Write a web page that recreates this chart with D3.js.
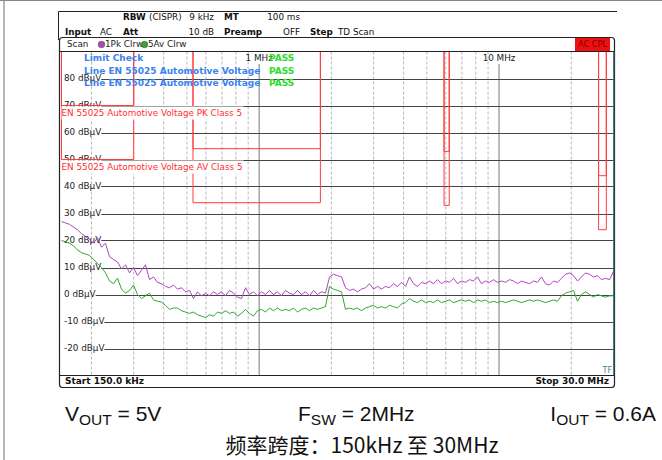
<!DOCTYPE html>
<html>
<head>
<meta charset="utf-8">
<script src="https://cdn.jsdelivr.net/npm/d3@7"></script>
<style>
  body { margin: 0; background: #fff; }
  svg { display: block; }
</style>
</head>
<body>
<div id="chart"></div>
<script>
// sweep, MHz
const sweepStart = 0.15;
const sweepStop = 30;

const levelTicks = [80, 70, 60, 50, 40, 30, 20, 10, 0, -10, -20];
const decadeTicks = [1, 10];
const minorTicks = [0.2, 0.3, 0.4, 0.5, 0.6, 0.7, 0.8, 0.9, 2, 3, 4, 5, 6, 7, 8, 9, 20];

// limit line bands (MHz / dBuV)
const bandStart = [0.15, 0.53, 5.9, 26];
const bandStop = [0.3, 1.8, 6.2, 28];
const bandPeak = [70, 54, 53, 44];
const bandAvg = [50, 34, 33, 24];

// trace 1: 1Pk Clrw, dBuV
const peakTrace = [
  27, 26.5, 26, 25, 24, 22.5, 21.5, 20.5, 19, 21,
  17.5, 19, 14, 13, 12, 9.5, 11, 8, 10, 7,
  9, 11, 5.5, 6.5, 4.5, 4, 3, 2.5, 3.5, 2,
  2.5, 1, 1.5, -1.5, 1, -0.5, 0.5, -0.5, 1, 0,
  1, -0.5, 1.5, 0.5, -1, -1.5, 2.5, 0, 1, -0.5,
  1, 0, 1.5, 0, 1, -0.5, 1.5, 0.5, 0, 1.5,
  0, 1, -0.5, 1.5, 0, 1, 0.5, 6.5, 7.5, 7,
  6.5, 2.5, 1.5, 2, 1, 2, 2.5, 4, 2, 3,
  2, 3, 2.5, 4, 3, 4.5, 3, 6.5, 4, 3,
  4.5, 4, 5, 4, 5.5, 4, 5, 4.5, 6, 4,
  5, 4.5, 5.5, 5, 6.5, 4, 5, 4.5, 5.5, 4.5,
  5, 4.5, 5.5, 5, 4, 5, 4.5, 4, 5, 4.5,
  6.5, 4, 3.5, 5, 4.5, 6, 7.5, 8, 7, 5,
  6.5, 8, 7.5, 6.5, 7, 5.5, 6, 5.5, 8.5
];

// trace 2: 5Av Clrw, dBuV
const avgTrace = [
  20, 19.5, 19, 18, 16.5, 15.5, 15, 14.5, 13, 11.5,
  10, 8, 5, 4, 6, 2, 0.5, 1.5, 3.5, 0,
  -1.5, -0.5, 0.5, -2, -2.5, -2.8, -4, -5.5, -5, -5,
  -6, -6.5, -7, -6.5, -7.5, -8, -8.5, -7.5, -8, -6.5,
  -7, -6, -7, -6.5, -8, -7, -5.5, -7, -8, -6,
  -5.5, -6.5, -5, -6, -5, -6, -5.5, -6, -5, -6.5,
  -5.5, -5, -6, -5, -5.5, -5, -4.5, 3, 2, 1.5,
  1, -5.5, -5, -5.5, -5, -6, -5, -4.5, -4, -5,
  -4.5, -5, -4, -4.5, -5, -3.5, -3, -1.5, -2.5, -3,
  -2, -3, -2.5, -3, -2, -3, -2.5, -2, -3, -2.5,
  -2, -2.5, -2, -3, -2, -2.5, -2, -3, -2.5, -3,
  -2.5, -3, -2.5, -2, -2.5, -3, -2.5, -2, -2.5, -2,
  -2.5, -3, -2.5, -2, -2.5, -0.5, 0.5, 1, 1.5, -2.5,
  0, 1, 0, -1, 0, -0.5, -1, -0.5, -0.5
];

const W = 662, H = 460;
const plot = { left: 61.5, right: 613.5, top: 51.5, bottom: 375.5 };
const mono = 'DejaVu Sans';
const fs = 8.8;

const svg = d3.select('#chart').append('svg')
  .attr('width', W)
  .attr('height', H)
  .attr('font-family', mono);

const x = d3.scaleLog().domain([sweepStart, sweepStop]).range([plot.left, plot.right]);
const y = d3.scaleLinear().domain([-30, 90]).range([plot.bottom, plot.top]);

// sweep frequency of point i (log sweep)
const sweepFreq = (i, n) => sweepStart * Math.pow(sweepStop / sweepStart, i / (n - 1));

// page frame
svg.append('line').attr('x1', 0).attr('x2', W).attr('y1', 0.5).attr('y2', 0.5)
  .attr('stroke', '#888');
svg.append('line').attr('x1', 4).attr('x2', 4).attr('y1', 0).attr('y2', H)
  .attr('stroke', '#888').attr('stroke-width', 1.2);

// instrument screen edge
svg.append('path').attr('d', 'M58.5,40 V11.5 H617')
  .attr('fill', 'none').attr('stroke', '#222');

// settings header
const hdr = svg.append('g').attr('font-size', fs).attr('fill', '#111')
  .attr('dominant-baseline', 'middle');
const hdrItems = [
  ['RBW', 123, 17.5, 'bold', 'start'], ['(CISPR)', 149, 17.5, 'normal', 'start'],
  ['9 kHz', 214, 17.5, 'normal', 'end'], ['MT', 224, 17.5, 'bold', 'start'],
  ['100 ms', 300, 17.5, 'normal', 'end'],
  ['Input', 65, 32, 'bold', 'start'], ['AC', 100, 32, 'normal', 'start'],
  ['Att', 123, 32, 'bold', 'start'], ['10 dB', 214, 32, 'normal', 'end'],
  ['Preamp', 224, 32, 'bold', 'start'], ['OFF', 300, 32, 'normal', 'end'],
  ['Step', 310, 32, 'bold', 'start'], ['TD Scan', 338, 32, 'normal', 'start']
];
hdr.selectAll('text').data(hdrItems).join('text')
  .attr('x', d => d[1]).attr('y', d => d[2])
  .attr('font-weight', d => d[3]).attr('text-anchor', d => d[4])
  .text(d => d[0]);

// scan box
svg.append('rect')
  .attr('x', 59.5).attr('y', 37.5).attr('width', 555).attr('height', 350)
  .attr('rx', 3).attr('fill', 'none').attr('stroke', '#222').attr('stroke-width', 1.2);

const scanRow = svg.append('g').attr('font-size', fs).attr('fill', '#222')
  .attr('dominant-baseline', 'middle');
scanRow.append('text').attr('x', 67).attr('y', 44.5).text('Scan');
scanRow.append('circle').attr('cx', 101.5).attr('cy', 44.5).attr('r', 3.3)
  .attr('fill', '#b044c0').attr('stroke', '#555').attr('stroke-width', 0.6);
scanRow.append('text').attr('x', 105).attr('y', 44.5).text('1Pk Clrw');
scanRow.append('circle').attr('cx', 144.5).attr('cy', 44.5).attr('r', 3.3)
  .attr('fill', '#2ea82e').attr('stroke', '#555').attr('stroke-width', 0.6);
scanRow.append('text').attr('x', 148).attr('y', 44.5).text('5Av Clrw');

svg.append('rect').attr('x', 575).attr('y', 38).attr('width', 35).attr('height', 13.5)
  .attr('fill', '#f01010');
svg.append('text').attr('x', 592.5).attr('y', 44.8).attr('font-size', 8.2)
  .attr('text-anchor', 'middle').attr('dominant-baseline', 'middle')
  .attr('fill', '#7a0000').text('AC CPL');

// plot grid
const grid = svg.append('g');
grid.selectAll('line.minor').data(minorTicks).join('line')
  .attr('class', 'minor')
  .attr('x1', d => x(d)).attr('x2', d => x(d))
  .attr('y1', plot.top).attr('y2', plot.bottom)
  .attr('stroke', '#b8b8b8').attr('stroke-dasharray', '3,2');

grid.selectAll('line.major').data(decadeTicks).join('line')
  .attr('class', 'major')
  .attr('x1', d => x(d)).attr('x2', d => x(d))
  .attr('y1', 64).attr('y2', plot.bottom)
  .attr('stroke', '#777');
grid.selectAll('text.freq').data(decadeTicks).join('text')
  .attr('class', 'freq')
  .attr('x', d => x(d)).attr('y', 58.5)
  .attr('text-anchor', 'middle').attr('dominant-baseline', 'middle')
  .attr('font-size', fs).attr('fill', '#222')
  .text(d => d3.format('d')(d) + ' MHz');

const lvl = grid.selectAll('g.level').data(levelTicks).join('g').attr('class', 'level');
lvl.append('text')
  .attr('x', 64).attr('y', d => y(d))
  .attr('dominant-baseline', 'middle')
  .attr('font-size', fs).attr('fill', '#222')
  .text(d => d + ' dBµV');
lvl.each(function (d) {
  const w = d3.select(this).select('text').node().getComputedTextLength();
  d3.select(this).insert('line', 'text')
    .attr('x1', 64 + w).attr('x2', plot.right)
    .attr('y1', Math.round(y(d)) + 0.5).attr('y2', Math.round(y(d)) + 0.5)
    .attr('stroke', '#444');
});

// limit lines
const limitPath = (lev) => bandStart.map((s, i) =>
  `M${x(s)},${plot.top} V${y(lev[i])} H${x(bandStop[i])} V${plot.top}`).join(' ');
const limits = svg.append('g').attr('fill', 'none').attr('stroke', '#ff3b3b');
limits.append('path').attr('d', limitPath(bandPeak));
limits.append('path').attr('d', limitPath(bandAvg));

// limit line labels
const limitLabels = [
  ['EN 55025 Automotive Voltage PK Class 5', bandPeak[0]],
  ['EN 55025 Automotive Voltage AV Class 5', bandAvg[0]]
];
const ll = svg.append('g').selectAll('g').data(limitLabels).join('g');
ll.append('rect')
  .attr('x', plot.left).attr('y', d => y(d[1]) + 1)
  .attr('width', 182).attr('height', 13).attr('fill', '#fff');
ll.append('text')
  .attr('x', plot.left).attr('y', d => y(d[1]) + 8)
  .attr('dominant-baseline', 'middle')
  .attr('font-size', fs).attr('fill', '#ff3030')
  .text(d => d[0]);

// limit check block
const lc = svg.append('g').attr('font-size', 9).attr('font-weight', 'bold')
  .attr('dominant-baseline', 'middle');
const lcRows = ['Limit Check', 'Line EN 55025 Automotive Voltage', 'Line EN 55025 Automotive Voltage'];
lc.selectAll('text.name').data(lcRows).join('text')
  .attr('class', 'name')
  .attr('x', 84).attr('y', (d, i) => 58.5 + i * 12.7)
  .attr('fill', '#3b82ee').text(d => d);
lc.selectAll('text.pass').data(lcRows).join('text')
  .attr('class', 'pass')
  .attr('x', 269).attr('y', (d, i) => 58.5 + i * 12.7)
  .attr('fill', '#2ddc2d').text('PASS');

// traces
const trace = d3.line()
  .x((d, i, arr) => x(sweepFreq(i, arr.length)))
  .y(d => y(d));
svg.append('path').datum(avgTrace)
  .attr('d', trace).attr('fill', 'none').attr('stroke', '#2ea82e').attr('stroke-width', 1);
svg.append('path').datum(peakTrace)
  .attr('d', trace).attr('fill', 'none').attr('stroke', '#b044c0').attr('stroke-width', 1);

// plot frame
svg.append('line').attr('x1', 59.5).attr('x2', 614.5).attr('y1', plot.top).attr('y2', plot.top)
  .attr('stroke', '#222');
svg.append('line').attr('x1', 59.5).attr('x2', 614.5).attr('y1', plot.bottom).attr('y2', plot.bottom)
  .attr('stroke', '#222');
svg.append('line').attr('x1', 614).attr('x2', 614).attr('y1', plot.top).attr('y2', plot.bottom)
  .attr('stroke', '#1f4f55').attr('stroke-width', 1.5);

svg.append('text').attr('x', 612).attr('y', 370).attr('text-anchor', 'end')
  .attr('dominant-baseline', 'middle').attr('font-size', 8).attr('fill', '#3a8a9a').text('TF');

svg.append('text').attr('x', 65).attr('y', 381.5).attr('font-size', 9).attr('font-weight', 'bold')
  .attr('dominant-baseline', 'middle').attr('fill', '#111')
  .text('Start ' + d3.format('.1f')(sweepStart * 1000) + ' kHz');
svg.append('text').attr('x', 609).attr('y', 381.5).attr('font-size', 9).attr('font-weight', 'bold')
  .attr('text-anchor', 'end').attr('dominant-baseline', 'middle').attr('fill', '#111')
  .text('Stop ' + d3.format('.1f')(sweepStop) + ' MHz');

// captions
const cap = svg.append('g').attr('font-family', 'Liberation Sans, Arial, sans-serif')
  .attr('font-size', 21).attr('fill', '#111');
const capItems = [
  ['V', 'OUT', ' = 5V', 65, 'start'],
  ['F', 'SW', ' = 2MHz', 298, 'start'],
  ['I', 'OUT', ' = 0.6A', 656, 'end']
];
capItems.forEach(c => {
  const t = cap.append('text').attr('x', c[3]).attr('y', 421).attr('text-anchor', c[4]);
  t.append('tspan').text(c[0]);
  t.append('tspan').attr('font-size', 15.5).attr('dy', 4).text(c[1]);
  t.append('tspan').attr('dy', -4).text(c[2]);
});
svg.append('text').attr('x', 362).attr('y', 453).attr('text-anchor', 'middle')
  .attr('font-family', 'Noto Sans CJK SC, sans-serif').attr('font-size', 21).attr('fill', '#111')
  .text('频率跨度：150kHz 至 30MHz');
</script>
</body>
</html>
